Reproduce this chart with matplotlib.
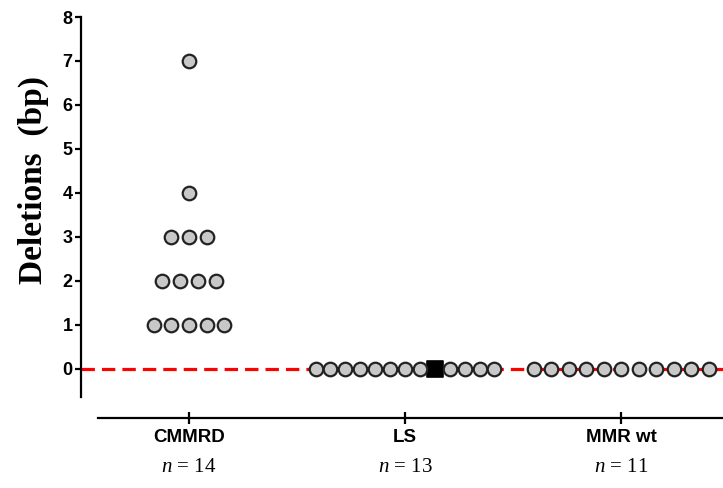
import matplotlib.pyplot as plt
import numpy as np

plt.rcParams['mathtext.fontset'] = 'custom'
plt.rcParams['mathtext.it'] = 'Liberation Serif:italic'
plt.rcParams['mathtext.rm'] = 'Liberation Serif'

groups = ['CMMRD', 'LS', 'MMR wt']
n_labels = ['14', '13', '11']

# deletion sizes (bp) per sample
cmmrd = [1, 1, 1, 1, 1, 2, 2, 2, 2, 3, 3, 3, 4, 7]
ls = [0] * 13
mmr_wt = [0] * 11
ls_square_index = 8  # one LS sample drawn as a black square

data = [cmmrd, ls, mmr_wt]
spacing = [0.082, 0.069, 0.081]

fig = plt.figure(figsize=(7.23, 4.88), dpi=100)
W, H = 723, 488
ax = fig.add_axes([81 / W, 1 - 397 / H, (723 - 81) / W, (397 - 17) / H])

ax.set_xlim(-0.5, 2.472)
ax.set_ylim(-0.64, 8)

# red dashed zero line
ax.axhline(0, color='#ff0000', lw=2.3, linestyle=(0, (4.2, 2.2)), zorder=1)

# scatter: stack equal values side by side
for gi, vals in enumerate(data):
    vals = np.array(vals)
    xs, ys = [], []
    for v in np.unique(vals):
        k = int(np.sum(vals == v))
        offs = (np.arange(k) - (k - 1) / 2) * spacing[gi]
        xs.extend(gi + offs)
        ys.extend([v] * k)
    xs = np.array(xs)
    ys = np.array(ys)
    mask = np.ones(len(xs), bool)
    if gi == 1:
        mask[ls_square_index] = False
        ax.scatter(xs[~mask], ys[~mask], marker='s', s=118, c='black',
                   edgecolors='black', linewidths=1.2, zorder=3)
    ax.scatter(xs[mask], ys[mask], marker='o', s=95, c='#c8c8c8',
               edgecolors='#222222', linewidths=1.6, zorder=3)

# axes styling (Prism-like)
for s in ['top', 'right']:
    ax.spines[s].set_visible(False)
ax.spines['left'].set_linewidth(1.6)
ax.spines['bottom'].set_linewidth(1.6)
ax.spines['bottom'].set_position(('outward', 15))
ax.spines['bottom'].set_bounds(-0.421, 2.472)

ax.set_yticks(range(0, 9))
ax.set_xticks(range(3))
ax.set_xticklabels(groups)
ax.tick_params(axis='y', direction='out', length=4, width=1.6, pad=2,
               labelsize=13)
ax.tick_params(axis='x', direction='inout', length=8, width=1.6, pad=4,
               labelsize=13.5)
for lab in ax.get_xticklabels() + ax.get_yticklabels():
    lab.set_fontfamily('Liberation Sans')
    lab.set_fontweight('bold')

fig.text(33 / W, 1 - 180 / H, 'Deletions  (bp)', rotation=90,
         ha='center', va='center', fontsize=24, fontweight='bold',
         family='Liberation Serif')

for i, n in enumerate(n_labels):
    x_fig = (81 + (i + 0.5) * 216) / W
    fig.text(x_fig, 1 - 467 / H, r'$\it{n}$' + ' = ' + n, ha='center',
             va='center', fontsize=15, family='Liberation Serif')

fig.savefig('out.png', dpi=100)
